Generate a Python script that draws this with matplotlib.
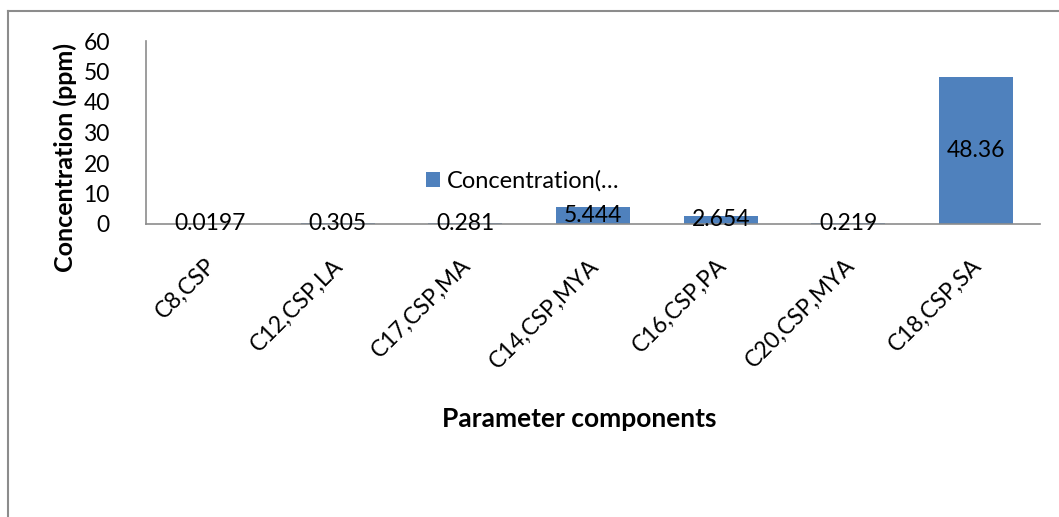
import matplotlib.pyplot as plt
from matplotlib.lines import Line2D
import matplotlib.transforms as mtransforms

categories = ['C8,CSP', 'C12,CSP,LA', 'C17,CSP,MA', 'C14,CSP,MYA',
              'C16,CSP,PA', 'C20,CSP,MYA', 'C18,CSP,SA']
values = [0.0197, 0.305, 0.281, 5.444, 2.654, 0.219, 48.36]
labels = ['0.0197', '0.305', '0.281', '5.444', '2.654', '0.219', '48.36']

plt.rcParams['font.family'] = ['Lato', 'DejaVu Sans']

fig = plt.figure(figsize=(10.59, 5.17), dpi=100)
ax = fig.add_axes([146 / 1059, 1 - 224 / 517, 894 / 1059, 183 / 517])

x = range(len(categories))
bars = ax.bar(x, values, width=0.58, color='#4F81BD', label='Concentration(…', zorder=2)
ax.set_xlim(-0.5, len(categories) - 0.5)
ax.set_ylim(0, 60)
ax.set_yticks(range(0, 61, 10))

for xi, v, t in zip(x, values, labels):
    ax.text(xi, v / 2, t, ha='center', va='center', fontsize=16.5, color='black', zorder=3)

for s in ['top', 'right']:
    ax.spines[s].set_visible(False)
for s in ['left', 'bottom']:
    ax.spines[s].set_color('#8c8c8c')
    ax.spines[s].set_linewidth(1.2)
ax.tick_params(axis='both', length=0, labelsize=16.5)
ax.tick_params(axis='y', pad=26)

ax.set_xticks(list(x))
ax.set_xticklabels(categories, rotation=45, ha='right', va='top', fontsize=16.5)
offset = mtransforms.ScaledTranslation(10 / 100, -26 / 100, fig.dpi_scale_trans)
for lab in ax.get_xticklabels():
    lab.set_transform(lab.get_transform() + offset)

ax.set_ylabel('Concentration (ppm)', fontsize=18, fontweight='bold')
ax.yaxis.set_label_coords(-0.077, 0.366)
ax.set_xlabel('Parameter components', fontsize=19, fontweight='bold')
ax.xaxis.set_label_coords(0.485, -1.0)

ax.legend(loc='center left', bbox_to_anchor=(0.313, 0.235), frameon=False,
          fontsize=17, handlelength=0.6, handleheight=0.6, handletextpad=0.3,
          borderpad=0, borderaxespad=0)

fig.add_artist(Line2D([8 / 1059, 8 / 1059], [0, 1 - 11 / 517], color='#8c8c8c', lw=1.5))
fig.add_artist(Line2D([8 / 1059, 1], [1 - 11 / 517, 1 - 11 / 517], color='#8c8c8c', lw=1.5))

fig.savefig('out.png', dpi=100)
